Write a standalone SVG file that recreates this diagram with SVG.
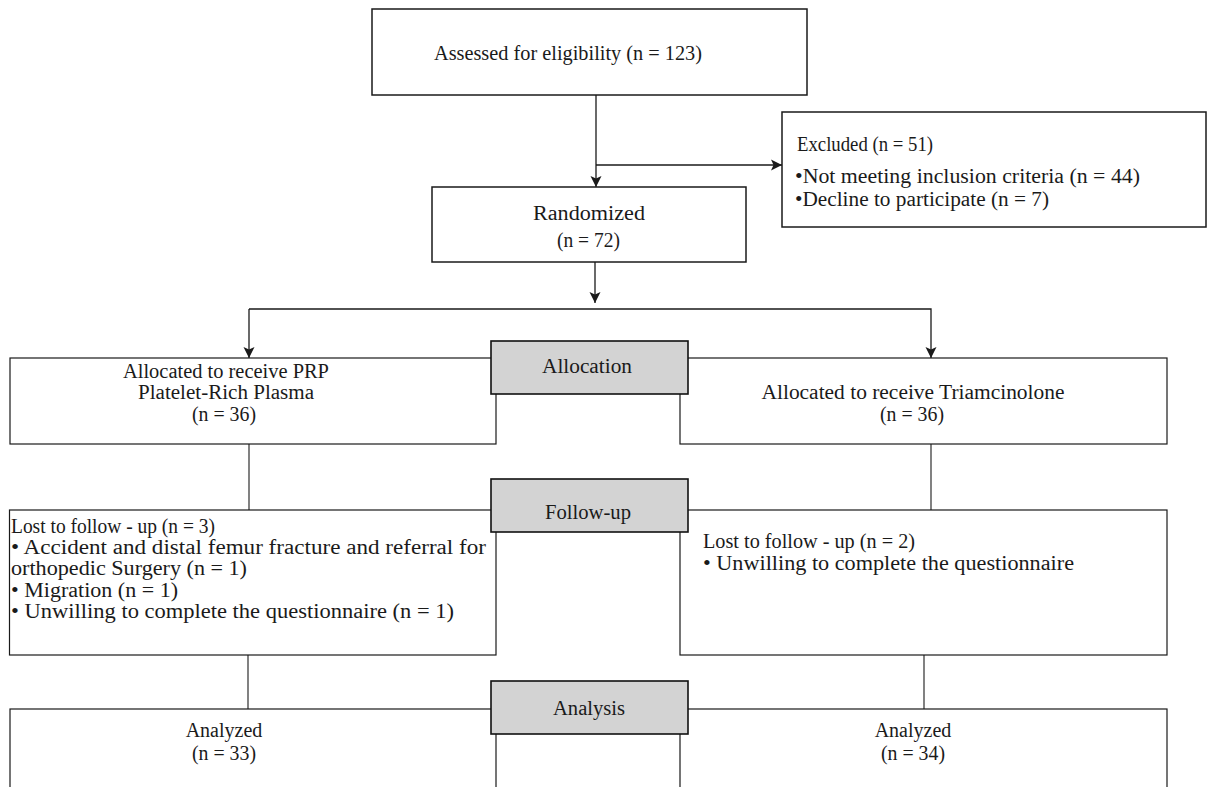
<svg xmlns="http://www.w3.org/2000/svg" width="1207" height="787" viewBox="0 0 1207 787">
<style>
.box{fill:#fff;stroke:#1a1a1a;stroke-width:1.2}
.topbox{fill:#fff;stroke:#1a1a1a;stroke-width:1.5}
.stage{fill:#d3d3d3;stroke:#111;stroke-width:1.6}
.ln{fill:none;stroke:#1a1a1a;stroke-width:1.3}
.ln2{fill:none;stroke:#1a1a1a;stroke-width:1.1}
text{font-family:"Liberation Serif","Times New Roman",serif;font-size:20px;fill:#1a1a1a}
.c{text-anchor:middle}
</style>
<defs>
<marker id="arr" markerUnits="userSpaceOnUse" markerWidth="12" markerHeight="12" viewBox="0 0 12 12" refX="11" refY="6" orient="auto">
<path d="M0,0.5 L11,6 L0,11.5 L2.5,6 z" fill="#1a1a1a"/>
</marker>
</defs>
<rect width="1207" height="787" fill="#fff"/>

<g id="connectors">
<line class="ln" x1="596" y1="95" x2="596" y2="187" marker-end="url(#arr)"/>
<line class="ln" x1="596" y1="165" x2="782" y2="165" marker-end="url(#arr)"/>
<line class="ln" x1="595" y1="262" x2="595" y2="303" marker-end="url(#arr)"/>
<polyline class="ln" points="249,309 931,309 931,358" marker-end="url(#arr)"/>
<line class="ln" x1="249" y1="309" x2="249" y2="358" marker-end="url(#arr)"/>
<line class="ln2" x1="249" y1="444" x2="249" y2="510"/>
<line class="ln2" x1="931" y1="444" x2="931" y2="510"/>
<line class="ln2" x1="248" y1="655" x2="248" y2="709"/>
<line class="ln2" x1="924" y1="655" x2="924" y2="709"/>
</g>

<g id="n_assessed">
<rect class="topbox" x="372" y="9" width="435" height="86"/>
<text x="434" y="60" textLength="268" lengthAdjust="spacingAndGlyphs">Assessed for eligibility (n = 123)</text>
</g>

<g id="n_excluded">
<rect class="topbox" x="782" y="112" width="424" height="115"/>
<text x="797" y="151" textLength="136" lengthAdjust="spacingAndGlyphs">Excluded (n = 51)</text>
<text x="795" y="183" textLength="345" lengthAdjust="spacingAndGlyphs">•Not meeting inclusion criteria (n = 44)</text>
<text x="795" y="206" textLength="254" lengthAdjust="spacingAndGlyphs">•Decline to participate (n = 7)</text>
</g>

<g id="n_randomized">
<rect class="topbox" x="432" y="187" width="314" height="75"/>
<text x="533" y="220" textLength="112" lengthAdjust="spacingAndGlyphs">Randomized</text>
<text x="557" y="247" textLength="63" lengthAdjust="spacingAndGlyphs">(n = 72)</text>
</g>

<g id="n_prp">
<rect class="box" x="10" y="358" width="486" height="86"/>
<text class="c" x="226" y="378" textLength="206" lengthAdjust="spacingAndGlyphs">Allocated to receive PRP</text>
<text class="c" x="226" y="399" textLength="176" lengthAdjust="spacingAndGlyphs">Platelet-Rich Plasma</text>
<text class="c" x="224" y="421" textLength="64" lengthAdjust="spacingAndGlyphs">(n = 36)</text>
</g>

<g id="n_tri">
<rect class="box" x="680" y="358" width="487" height="86"/>
<text class="c" x="913" y="399" textLength="303" lengthAdjust="spacingAndGlyphs">Allocated to receive Triamcinolone</text>
<text class="c" x="912" y="421" textLength="64" lengthAdjust="spacingAndGlyphs">(n = 36)</text>
</g>

<g id="n_lost_prp">
<rect class="box" x="9.5" y="510" width="486.5" height="145"/>
<text x="11" y="533" textLength="204" lengthAdjust="spacingAndGlyphs">Lost to follow - up (n = 3)</text>
<text x="11" y="554" textLength="475" lengthAdjust="spacingAndGlyphs">• Accident and distal femur fracture and referral for</text>
<text x="11" y="575" textLength="236" lengthAdjust="spacingAndGlyphs">orthopedic Surgery (n = 1)</text>
<text x="11" y="597" textLength="167" lengthAdjust="spacingAndGlyphs">• Migration (n = 1)</text>
<text x="11" y="618" textLength="443" lengthAdjust="spacingAndGlyphs">• Unwilling to complete the questionnaire  (n = 1)</text>
</g>

<g id="n_lost_tri">
<rect class="box" x="680" y="510" width="487" height="145"/>
<text x="703" y="548" textLength="212" lengthAdjust="spacingAndGlyphs">Lost to follow - up (n = 2)</text>
<text x="703" y="570" textLength="371" lengthAdjust="spacingAndGlyphs">• Unwilling to complete the questionnaire</text>
</g>

<g id="n_an_prp">
<rect class="box" x="10" y="709" width="486" height="100"/>
<text class="c" x="224" y="737">Analyzed</text>
<text class="c" x="224" y="760" textLength="64" lengthAdjust="spacingAndGlyphs">(n = 33)</text>
</g>

<g id="n_an_tri">
<rect class="box" x="680" y="709" width="487" height="100"/>
<text class="c" x="913" y="737">Analyzed</text>
<text class="c" x="913" y="760" textLength="64" lengthAdjust="spacingAndGlyphs">(n = 34)</text>
</g>

<g id="stage_allocation">
<rect class="stage" x="491" y="341" width="197" height="53"/>
<text x="542" y="373" textLength="90" lengthAdjust="spacingAndGlyphs">Allocation</text>
</g>

<g id="stage_followup">
<rect class="stage" x="491" y="479" width="197" height="53"/>
<text x="545" y="519" textLength="86" lengthAdjust="spacingAndGlyphs">Follow-up</text>
</g>

<g id="stage_analysis">
<rect class="stage" x="491" y="681" width="197" height="53"/>
<text x="553" y="715" textLength="72" lengthAdjust="spacingAndGlyphs">Analysis</text>
</g>
</svg>
